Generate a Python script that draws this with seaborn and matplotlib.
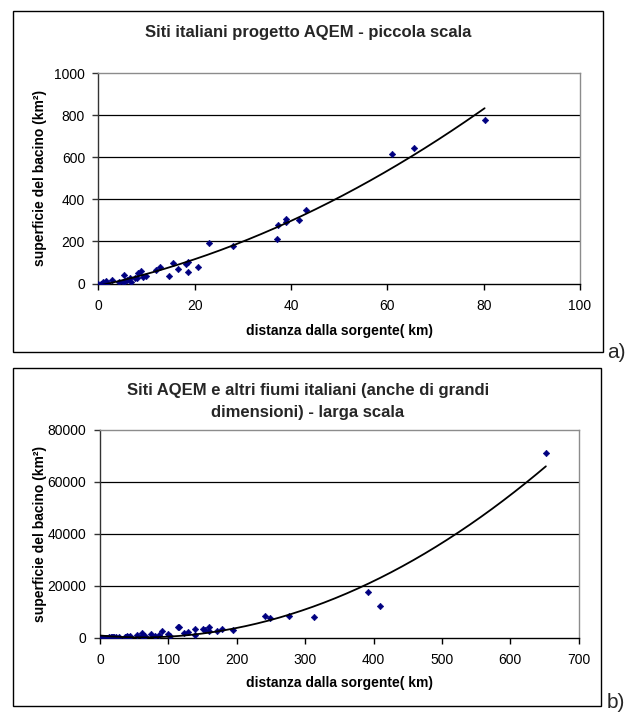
import numpy as np
import pandas as pd
import matplotlib
matplotlib.use("Agg")
import matplotlib.pyplot as plt
import seaborn as sns
from matplotlib.patches import Rectangle

# ---- data: AQEM sites (small scale) ----
aqem_x = [0.0, 0.5, 1.0, 1.6, 1.8, 2.9, 4.2, 5.3, 5.2, 5.5, 6.0, 6.5, 6.7, 7.6, 8.0,
          8.3, 8.9, 9.3, 9.9, 12.0, 12.9, 14.6, 15.6, 16.6, 18.2, 18.6, 18.6, 20.8,
          23.0, 28.0, 37.2, 37.4, 38.9, 39.0, 41.6, 43.1, 60.9, 65.5, 80.2]
aqem_y = [0, 0, 5, 12, 3, 16, 8, 39, 8, 13, 16, 27, 8, 28, 24,
          49, 58, 33, 38, 65, 80, 35, 96, 68, 91, 102, 54, 80,
          194, 178, 213, 279, 307, 291, 304, 348, 614, 647, 778]

# ---- data: other Italian rivers (large scale) ----
other_x = [40, 44, 54, 62, 75, 87, 91, 99, 102, 113.6, 115.5, 123, 128, 139, 139,
           151, 153, 160, 160, 171, 178.5, 194, 241, 248, 277, 313, 392, 409, 652]
other_y = [500, 550, 900, 1770, 1400, 1100, 2500, 1300, 700, 4300, 4000, 1900, 2150,
           3400, 1100, 3300, 2900, 4150, 2400, 2500, 3200, 3100, 8300, 7700, 8460,
           8100, 17700, 12300, 70900]

title_a = "Siti italiani progetto AQEM - piccola scala"
title_b1 = "Siti AQEM e altri fiumi italiani (anche di grandi"
title_b2 = "dimensioni) - larga scala"
xlabel = "distanza dalla sorgente( km)"
ylabel = "superficie del bacino (km²)"

xticks_a = [0, 20, 40, 60, 80, 100]
yticks_a = [0, 200, 400, 600, 800, 1000]
xticks_b = [0, 100, 200, 300, 400, 500, 600, 700]
yticks_b = [0, 20000, 40000, 60000, 80000]

df_a = pd.DataFrame({"x": aqem_x, "y": aqem_y})
df_b = pd.DataFrame({"x": aqem_x + other_x, "y": aqem_y + other_y})

sns.set_theme(style="white")
plt.rcParams["font.family"] = ["Liberation Sans", "DejaVu Sans"]

W, H = 643, 713
fig = plt.figure(figsize=(W / 100, H / 100), dpi=100)
fig.patch.set_facecolor("white")


def rect(l, t, r, b):
    return [l / W, 1 - b / H, (r - l) / W, (b - t) / H]


ax1 = fig.add_axes(rect(98.3, 73.3, 580, 283.5))
ax2 = fig.add_axes(rect(100, 429.7, 578.7, 637.7))

for (l, t, r, b) in [(13, 11, 603, 352), (13, 368, 601, 706)]:
    fig.add_artist(Rectangle((l / W, 1 - b / H), (r - l) / W, (b - t) / H,
                             transform=fig.transFigure, fill=False,
                             ec="black", lw=1.0))

navy = "#000080"


def draw(ax, df, xt, yt, xpad, ypad):
    sns.scatterplot(data=df, x="x", y="y", ax=ax, marker="D", s=11,
                    color=navy, edgecolor=navy, linewidth=0.4, legend=False,
                    zorder=3)
    coef = np.polyfit(df["x"], df["y"], 2)
    xs = np.linspace(df["x"].min(), df["x"].max(), 200)
    sns.lineplot(x=xs, y=np.polyval(coef, xs), ax=ax, color="black", lw=1.3,
                 zorder=4)
    ax.set_xlim(xt[0], xt[-1])
    ax.set_ylim(yt[0], yt[-1])
    ax.set_xticks(xt)
    ax.set_yticks(yt)
    ax.set_xticklabels([str(v) for v in xt])
    ax.set_yticklabels([str(v) for v in yt])
    ax.set_axisbelow(True)
    ax.yaxis.grid(True, color="black", lw=0.9)
    ax.xaxis.grid(False)
    gl = ax.get_ygridlines()
    gl[-1].set_visible(False)
    gl[0].set_visible(False)
    ax.set_facecolor("white")
    for s in ["top", "right"]:
        ax.spines[s].set_color("#8c8c8c")
        ax.spines[s].set_linewidth(1.0)
    ax.spines["left"].set_color("#333333")
    ax.spines["bottom"].set_color("black")
    ax.spines["left"].set_linewidth(1.0)
    ax.spines["bottom"].set_linewidth(1.0)
    ax.tick_params(axis="x", bottom=True, direction="out", length=4, width=1,
                   color="black", labelsize=10, labelcolor="black", pad=xpad)
    ax.tick_params(axis="y", left=True, direction="out", length=4, width=1,
                   color="#333333", labelsize=10, labelcolor="black", pad=ypad)
    ax.set_xlabel(xlabel, fontsize=10, fontweight="bold", color="black")
    ax.set_ylabel(ylabel, fontsize=10, fontweight="bold", color="black")
    ax.xaxis.label.set_verticalalignment("center")
    ax.yaxis.label.set_verticalalignment("center")


draw(ax1, df_a, xticks_a, yticks_a, 7, 5.5)
draw(ax2, df_b, xticks_b, yticks_b, 7, 6)

ax1.xaxis.set_label_coords(0.5, (283.5 - 331) / (283.5 - 73.3))
ax1.yaxis.set_label_coords((40 - 98.3) / (580 - 98.3), 0.5)
ax2.xaxis.set_label_coords(0.5, (637.7 - 683) / (637.7 - 429.7))
ax2.yaxis.set_label_coords((40 - 100) / (578.7 - 100), 0.5)

fig.text(308 / W, 1 - 33 / H, title_a, ha="center", va="center",
         fontsize=12, fontweight="bold")
fig.text(308 / W, 1 - 390 / H, title_b1, ha="center", va="center",
         fontsize=12, fontweight="bold")
fig.text(308 / W, 1 - 412 / H, title_b2, ha="center", va="center",
         fontsize=12, fontweight="bold")

fig.text(607 / W, 1 - 352 / H, "a)", ha="left", va="center", fontsize=15)
fig.text(607 / W, 1 - 702 / H, "b)", ha="left", va="center", fontsize=15)

fig.savefig("out.png", dpi=100)
